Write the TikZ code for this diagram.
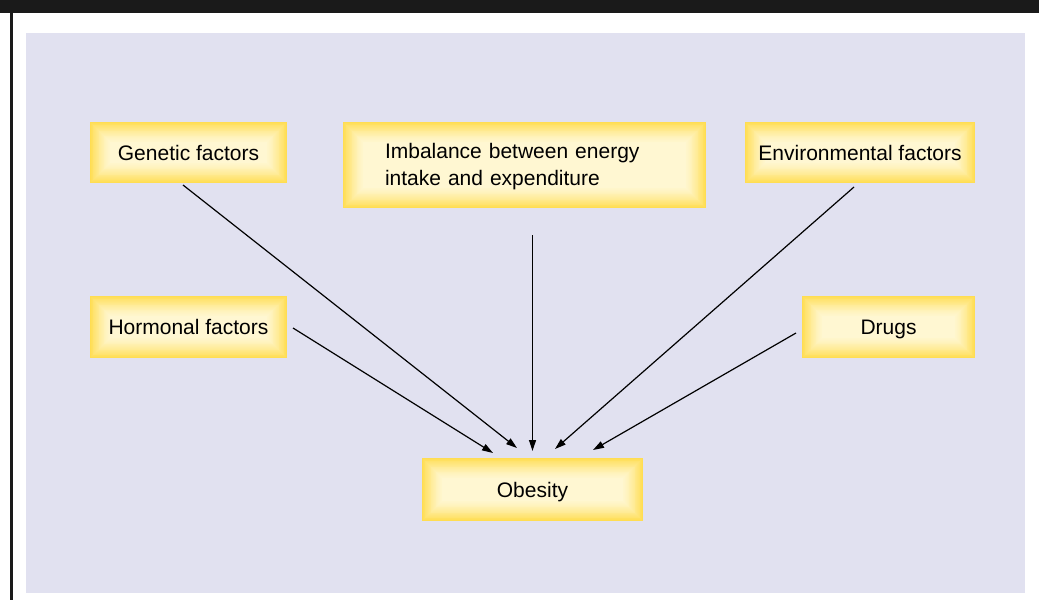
\documentclass[tikz,border=0pt]{standalone}
\usepackage{fontspec}
\setmainfont{Liberation Sans}
\usetikzlibrary{arrows.meta}
\definecolor{panel}{HTML}{E1E1F0}
\definecolor{yd}{HTML}{FFDD52}
\definecolor{yl}{HTML}{FFF7D2}
\definecolor{band}{HTML}{1A1A1A}
\tikzset{
  glowbox/.style={rectangle, inner sep=0pt, font=\fontsize{21}{27}\selectfont, fill=yd,
    path picture={
      \foreach \i [evaluate=\i as \p using {int(100*(1-\i/25)^1.4)}] in {1,...,25}{
        \fill[yd!\p!yl] ([xshift=\i*0.85pt, yshift=-\i*0.85pt]path picture bounding box.north west)
          rectangle ([xshift=-\i*0.85pt, yshift=\i*0.85pt]path picture bounding box.south east);
      }
    }},
  oneline/.style={glowbox, text depth=0pt},
  arr/.style={line width=1.2pt, -{Triangle[length=11pt,width=7pt]}}
}
\begin{document}
\begin{tikzpicture}[x=1pt,y=-1pt]
\useasboundingbox (0,0) rectangle (1039,600);
\fill[white] (0,0) rectangle (1039,600);
\fill[band] (0,0) rectangle (1039,13);
\fill[band] (10,0) rectangle (12.5,600);
\fill[panel] (26,33) rectangle (1025,593);

\node[oneline, minimum width=197pt, minimum height=61pt] (gen) at (188.5,152.5) {Genetic factors};
\node[glowbox, minimum width=363pt, minimum height=86pt, text width=279pt, text height=19pt, inner xsep=42pt, align=left] (imb) at (524.5,165) {Imbalance between energy\\intake and expenditure};
\node[oneline, minimum width=230pt, minimum height=61pt] (env) at (860,152.5) {Environmental factors};
\node[oneline, minimum width=197pt, minimum height=62pt] (hor) at (188.5,327) {Hormonal factors};
\node[oneline, minimum width=173pt, minimum height=62pt] (drg) at (888.5,327) {Drugs};
\node[oneline, minimum width=221pt, minimum height=63pt] (obe) at (532.5,489.5) {Obesity};

\coordinate (genS) at (183,185);
\coordinate (imbS) at (532.5,235);
\coordinate (envS) at (854,187);
\coordinate (horS) at (293,328);
\coordinate (drgS) at (796,333);
\coordinate (obeA) at (517,448);
\coordinate (obeB) at (532.5,451);
\coordinate (obeC) at (555,449);
\coordinate (obeD) at (493,453);
\coordinate (obeE) at (593,450);

\draw[arr] (genS) -- (obeA);
\draw[arr] (imbS) -- (obeB);
\draw[arr] (envS) -- (obeC);
\draw[arr] (horS) -- (obeD);
\draw[arr] (drgS) -- (obeE);
\end{tikzpicture}
\end{document}
